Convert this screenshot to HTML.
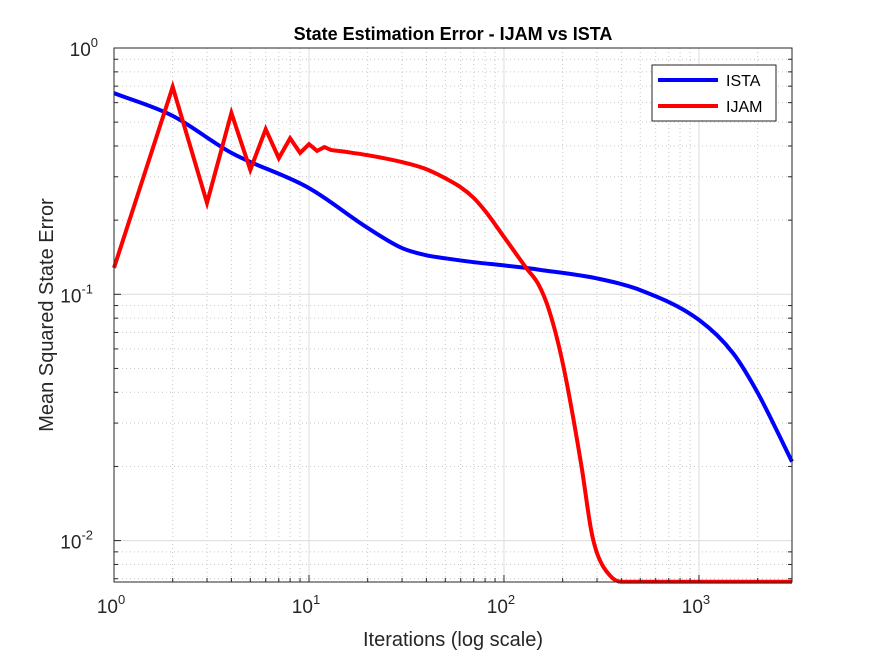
<!DOCTYPE html>
<html><head><meta charset="utf-8"><style>
body{margin:0;background:#fff;}
svg text{font-family:"Liberation Sans",Arial,sans-serif;}
</style></head><body>
<svg id="chart" width="875" height="656" viewBox="0 0 875 656" xmlns="http://www.w3.org/2000/svg">
<rect width="875" height="656" fill="#fff"/>
<g id="grid"></g>
<g id="lines"></g>
<g id="axes"></g>
<text x="453" y="40" text-anchor="middle" font-size="18" font-weight="bold" fill="#000">State Estimation Error - IJAM vs ISTA</text>
<text x="453" y="646" text-anchor="middle" font-size="20" fill="#262626">Iterations (log scale)</text>
<text transform="translate(53,315) rotate(-90)" text-anchor="middle" font-size="20" fill="#262626">Mean Squared State Error</text>
<g>
<rect x="652" y="65" width="124" height="56" fill="#fff" stroke="#262626" stroke-width="1"/>
<line x1="658" y1="80" x2="718" y2="80" stroke="#0000ff" stroke-width="4"/>
<text x="726" y="86" font-size="16" fill="#000">ISTA</text>
<line x1="658" y1="106" x2="718" y2="106" stroke="#ff0000" stroke-width="4"/>
<text x="726" y="112" font-size="16" fill="#000">IJAM</text>
</g>
</svg>
<script>
const istaX=[1,2,4,10,20,30,40,50,70,100,130,150,300,500,1000,1500,2000,3000];
const istaY=[0.656,0.53,0.375,0.27,0.186,0.154,0.144,0.140,0.135,0.131,0.128,0.126,0.116,0.104,0.0787,0.0575,0.0398,0.0209];
const ijamX=[1,2,3,4,5,6,7,8,9,10,11,12,13,15,20,30,40,50,60,70,80,100,130,150,170,200,250,280,300,350,400,3000];
const ijamY=[0.128,0.695,0.235,0.545,0.32,0.468,0.357,0.43,0.375,0.407,0.382,0.396,0.385,0.38,0.367,0.344,0.322,0.296,0.272,0.246,0.218,0.171,0.128,0.11,0.0866,0.0526,0.0199,0.011,0.0089,0.0072,0.0068,0.0068];
const ijamSharpCount=14;
const xTicks=[1,10,100,1000];
const xTickExp=["0","1","2","3"];
const yTicks=[1,0.1,0.01];
const yTickExp=["0","-1","-2"];
const L=114,R=792,T=48,B=582;
const xMin=1,xMax=3000,yMin=0.00679,yMax=1;
const ns="http://www.w3.org/2000/svg";
function X(v){return L+(Math.log10(v)-Math.log10(xMin))/(Math.log10(xMax)-Math.log10(xMin))*(R-L);}
function Y(v){return T+(Math.log10(yMax)-Math.log10(v))/(Math.log10(yMax)-Math.log10(yMin))*(B-T);}
function mk(tag,attrs,parent){const e=document.createElementNS(ns,tag);for(const k in attrs)e.setAttribute(k,attrs[k]);parent.appendChild(e);return e;}
const grid=document.getElementById('grid'),axes=document.getElementById('axes'),lines=document.getElementById('lines');
for(let d=0;d<4;d++)for(let m=2;m<10;m++){const v=m*Math.pow(10,d);if(v>xMax)break;
 const g=mk('line',{x1:X(v),x2:X(v),y1:T,y2:B,stroke:'#c8c8c8','stroke-width':1,'stroke-dasharray':'1,3'},grid);
 
 const t=mk('line',{x1:X(v),x2:X(v),y1:B,y2:B-4,stroke:'#262626'},axes);}
for(let d=-3;d<0;d++)for(let m=2;m<10;m++){const v=m*Math.pow(10,d);if(v<yMin)continue;
 const g=mk('line',{x1:L,x2:R,y1:Y(v),y2:Y(v),stroke:'#c8c8c8','stroke-width':1,'stroke-dasharray':'1,3'},grid);
 
 const t=mk('line',{x1:L,x2:L+4,y1:Y(v),y2:Y(v),stroke:'#262626'},axes);
 const t2=mk('line',{x1:R,x2:R-4,y1:Y(v),y2:Y(v),stroke:'#262626'},axes);}
xTicks.forEach((v,i)=>{const g=mk('line',{x1:X(v),x2:X(v),y1:T,y2:B,stroke:'#dcdcdc'},grid);
 
 const t=mk('line',{x1:X(v),x2:X(v),y1:B,y2:B-7,stroke:'#262626'},axes);
 const tx=mk('text',{x:X(v)-3,y:B+31,'text-anchor':'middle','font-size':19,fill:'#262626'},axes);
 
 tx.textContent='10';const s=mk('tspan',{dy:-9,'font-size':13},tx);s.textContent=xTickExp[i];});
yTicks.forEach((v,i)=>{const g=mk('line',{x1:L,x2:R,y1:Y(v),y2:Y(v),stroke:'#dcdcdc'},grid);
 
 const t=mk('line',{x1:L,x2:L+7,y1:Y(v),y2:Y(v),stroke:'#262626'},axes);
 const tx=mk('text',{x:L-8-(yTickExp[i].length>1?13:8),y:Y(v)+8,'text-anchor':'end','font-size':19,fill:'#262626'},axes);
 
 tx.textContent='10';const s=mk('tspan',{dy:-9,'font-size':13},tx);s.textContent=yTickExp[i];});
const frame=mk('rect',{x:L,y:T,width:R-L,height:B-T,fill:'none',stroke:'#262626','stroke-width':1},axes);

function smoothSeg(px,py,start){const n=px.length;
 const dl=[],m=[];for(let i=0;i<n-1;i++)dl.push((py[i+1]-py[i])/(px[i+1]-px[i]));
 m[0]=dl[0];m[n-1]=dl[n-2];
 for(let i=1;i<n-1;i++){m[i]=(dl[i-1]*dl[i]<=0)?0:(dl[i-1]+dl[i])/2;}
 for(let i=0;i<n-1;i++){if(dl[i]===0){m[i]=0;m[i+1]=0;continue;}const a=m[i]/dl[i],b=m[i+1]/dl[i],s=a*a+b*b;if(s>9){const t=3/Math.sqrt(s);m[i]=t*a*dl[i];m[i+1]=t*b*dl[i];}}
 let d=start?('M'+px[0].toFixed(1)+','+py[0].toFixed(1)):'';
 for(let i=0;i<n-1;i++){const h=px[i+1]-px[i];
  d+='C'+(px[i]+h/3).toFixed(1)+','+(py[i]+m[i]*h/3).toFixed(1)+' '+(px[i+1]-h/3).toFixed(1)+','+(py[i+1]-m[i+1]*h/3).toFixed(1)+' '+px[i+1].toFixed(1)+','+py[i+1].toFixed(1);}
 return d;}
function buildPath(xs,ys,sharp){const px=xs.map(X),py=ys.map(Y);let d='';
 if(sharp>1){for(let i=0;i<sharp;i++)d+=(i?'L':'M')+px[i].toFixed(1)+','+py[i].toFixed(1);
  d+=smoothSeg(px.slice(sharp-1),py.slice(sharp-1),false);}
 else d=smoothSeg(px,py,true);
 return d;}
function path(xs,ys,sharp,col,name){
 const p=mk('path',{d:buildPath(xs,ys,sharp),fill:'none',stroke:col,'stroke-width':4,'stroke-linejoin':'miter'},lines);
 }
path(istaX,istaY,0,'#0000ff','ista-line');
path(ijamX,ijamY,ijamSharpCount,'#ff0000','ijam-line');
</script>
</body></html>
